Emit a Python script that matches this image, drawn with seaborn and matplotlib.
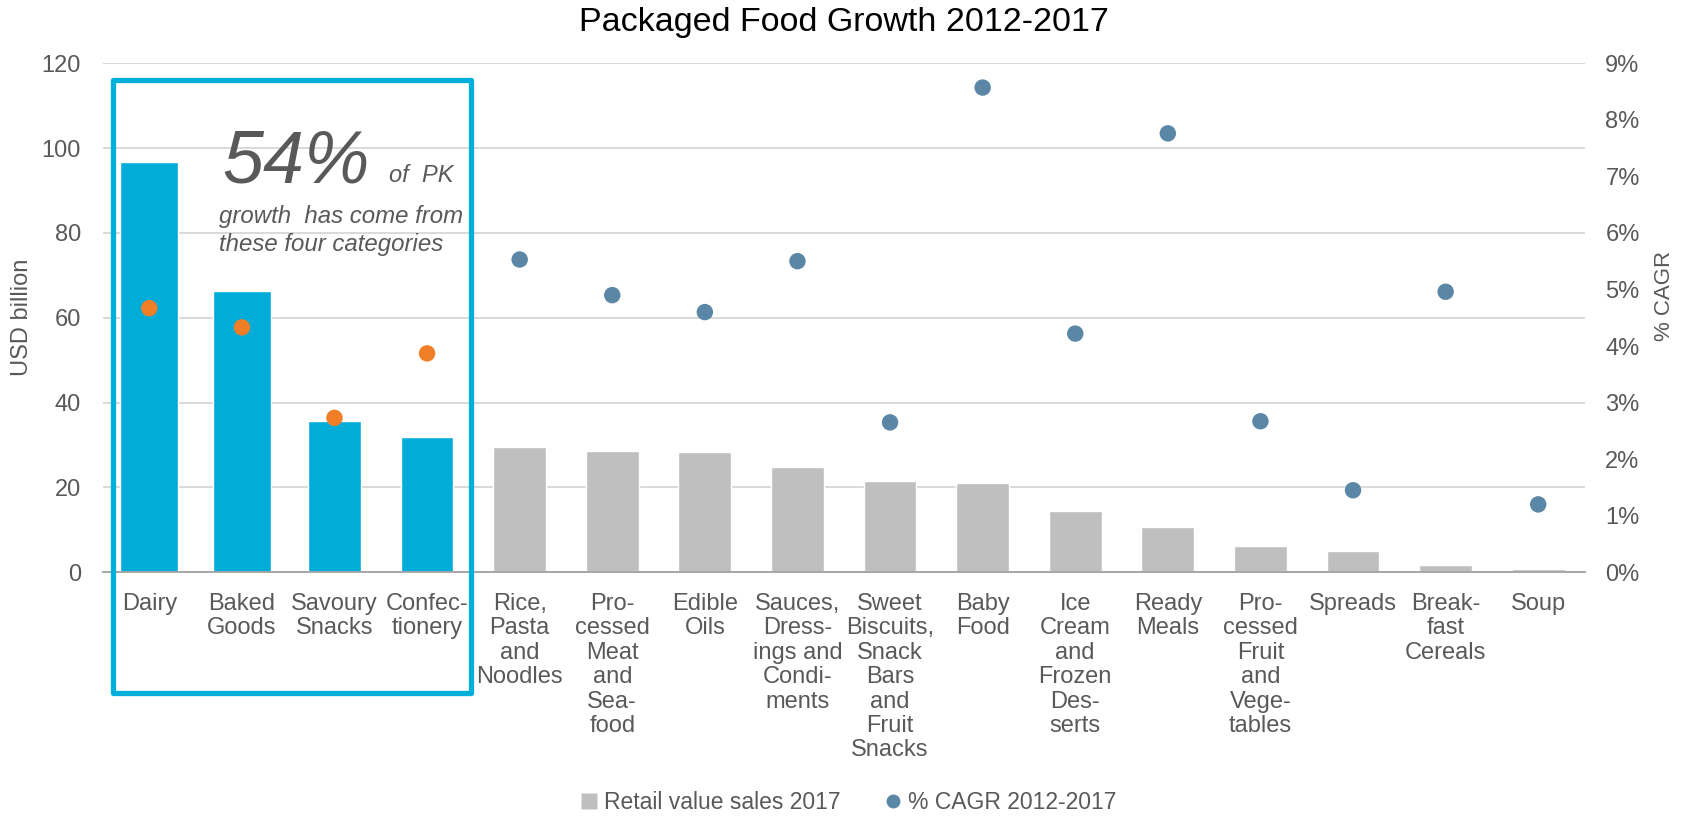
import numpy as np
import pandas as pd
import matplotlib
matplotlib.use("Agg")
import matplotlib.pyplot as plt
import seaborn as sns
from matplotlib.patches import Rectangle
from matplotlib.lines import Line2D
from matplotlib.ticker import FuncFormatter, FixedLocator

# ---------------- data ----------------
categories = [
    "Dairy", "Baked\nGoods", "Savoury\nSnacks", "Confec-\ntionery",
    "Rice,\nPasta\nand\nNoodles", "Pro-\ncessed\nMeat\nand\nSea-\nfood",
    "Edible\nOils", "Sauces,\nDress-\nings and\nCondi-\nments",
    "Sweet\nBiscuits,\nSnack\nBars\nand\nFruit\nSnacks", "Baby\nFood",
    "Ice\nCream\nand\nFrozen\nDes-\nserts", "Ready\nMeals",
    "Pro-\ncessed\nFruit\nand\nVege-\ntables", "Spreads",
    "Break-\nfast\nCereals", "Soup",
]
retail_sales = [96.6, 66.3, 35.6, 31.8, 29.6, 28.6, 28.4, 24.9,
                21.5, 21.1, 14.4, 10.7, 6.3, 5.0, 1.8, 0.8]
cagr_pct = [4.67, 4.33, 2.73, 3.87, 5.53, 4.90, 4.60, 5.50,
            2.65, 8.57, 4.22, 7.76, 2.67, 1.45, 4.96, 1.20]
highlighted = [True, True, True, True] + [False] * 12

title = "Packaged Food Growth 2012-2017"
left_label = "USD billion"
right_label = "% CAGR"
legend_labels = ["Retail value sales 2017", "% CAGR 2012-2017"]

# ---------------- style ----------------
BLUE = "#02ACD8"
GREY = "#BFBFBF"
ORANGE = "#F07E26"
STEEL = "#5A87A5"
TXT = "#595959"
GRID = "#D9D9D9"
AXIS = "#A6A6A6"
BOX = "#00B0DB"

sns.set_theme(style="white")
plt.rcParams["font.family"] = ["Liberation Sans", "DejaVu Sans"]

fig = plt.figure(figsize=(16.87, 8.16), dpi=100)
ax = fig.add_axes([0.06105, 0.2987, 0.8782, 0.6238])

df = pd.DataFrame({
    "category": categories,
    "sales": retail_sales,
    "cagr": cagr_pct,
    "group": ["top" if h else "other" for h in highlighted],
})

sns.barplot(data=df, x="category", y="sales", hue="group",
            palette={"top": BLUE, "other": GREY}, dodge=False,
            width=0.57, saturation=1, ax=ax, legend=False, order=categories)

# widen the two largest highlighted bars slightly (as in reference)
for p in ax.patches:
    cx = p.get_x() + p.get_width() / 2
    if abs(cx - 0) < 0.3 or abs(cx - 1) < 0.3:
        p.set_width(0.625)
        p.set_x(cx - 0.3125)

ax.set_xlim(-0.5, len(categories) - 0.5)
ax.set_ylim(0, 120)
ax.set_yticks(np.arange(0, 121, 20))
ax.yaxis.grid(True, color=GRID, linewidth=1.4)
ax.set_axisbelow(True)

for s in ["top", "left", "right"]:
    ax.spines[s].set_visible(False)
ax.spines["bottom"].set_color(AXIS)
ax.spines["bottom"].set_linewidth(1.4)

ax.set_xlabel("")
ax.set_xticks(np.arange(len(categories)))
ax.set_xticklabels(categories, fontsize=17, color=TXT, linespacing=1.14)
ax.tick_params(axis="x", which="major", length=0, pad=15)
ax.xaxis.set_minor_locator(FixedLocator(np.arange(-0.5, len(categories), 1.0)))
ax.tick_params(axis="x", which="minor", length=7, width=1.4, color=AXIS, direction="out")
ax.tick_params(axis="y", length=0, pad=16, labelsize=17, labelcolor=TXT)

ax.set_ylabel(left_label, fontsize=17, color=TXT)
ax.yaxis.set_label_coords(-0.047, 0.5)

# secondary axis
ax2 = ax.twinx()
sns.scatterplot(x=np.arange(len(categories)), y=df["cagr"], hue=df["group"],
                palette={"top": ORANGE, "other": STEEL}, s=140,
                edgecolor="none", ax=ax2, legend=False, zorder=5)
ax2.set_ylim(0, 9)
ax2.set_yticks(np.arange(0, 10, 1))
ax2.yaxis.set_major_formatter(FuncFormatter(lambda v, _: f"{int(round(v))}%"))
ax2.tick_params(axis="y", length=0, pad=15, labelsize=17, labelcolor=TXT)
for s in ["top", "left", "right", "bottom"]:
    ax2.spines[s].set_visible(False)
ax2.grid(False)
ax2.set_ylabel(right_label, fontsize=16, color=TXT)
ax2.yaxis.set_label_coords(1.0466, 0.542)

# highlight box
ax.add_patch(Rectangle((-0.397, -28.4), 3.873, 144.4, fill=False,
                       edgecolor=BOX, linewidth=3.8, clip_on=False,
                       zorder=6, joinstyle="round"))

# annotation
ax.text(0.785, 91.8, "54%", fontsize=53, style="italic", color=TXT,
        va="baseline", ha="left")
ax.text(2.59, 92.1, "of  PK", fontsize=17, style="italic", color=TXT,
        va="baseline", ha="left")
ax.text(0.753, 82.4, "growth  has come from", fontsize=17.3, style="italic",
        color=TXT, va="baseline", ha="left")
ax.text(0.753, 75.8, "these four categories", fontsize=17.3, style="italic",
        color=TXT, va="baseline", ha="left")

# title
fig.text(0.5, 0.973, title, fontsize=24.5, color="black", ha="center", va="center")

# legend
handles = [
    Line2D([], [], marker="s", linestyle="none", markersize=12,
           markerfacecolor=GREY, markeredgecolor="none"),
    Line2D([], [], marker="o", linestyle="none", markersize=10,
           markerfacecolor=STEEL, markeredgecolor="none"),
]
leg = fig.legend(handles, legend_labels, loc="center", bbox_to_anchor=(0.5027, 0.016),
                 ncol=2, frameon=False, fontsize=16.5, handlelength=0.8,
                 handletextpad=0.25, columnspacing=1.9, borderaxespad=0)
for t in leg.get_texts():
    t.set_color(TXT)

fig.savefig("out.png", dpi=100)
